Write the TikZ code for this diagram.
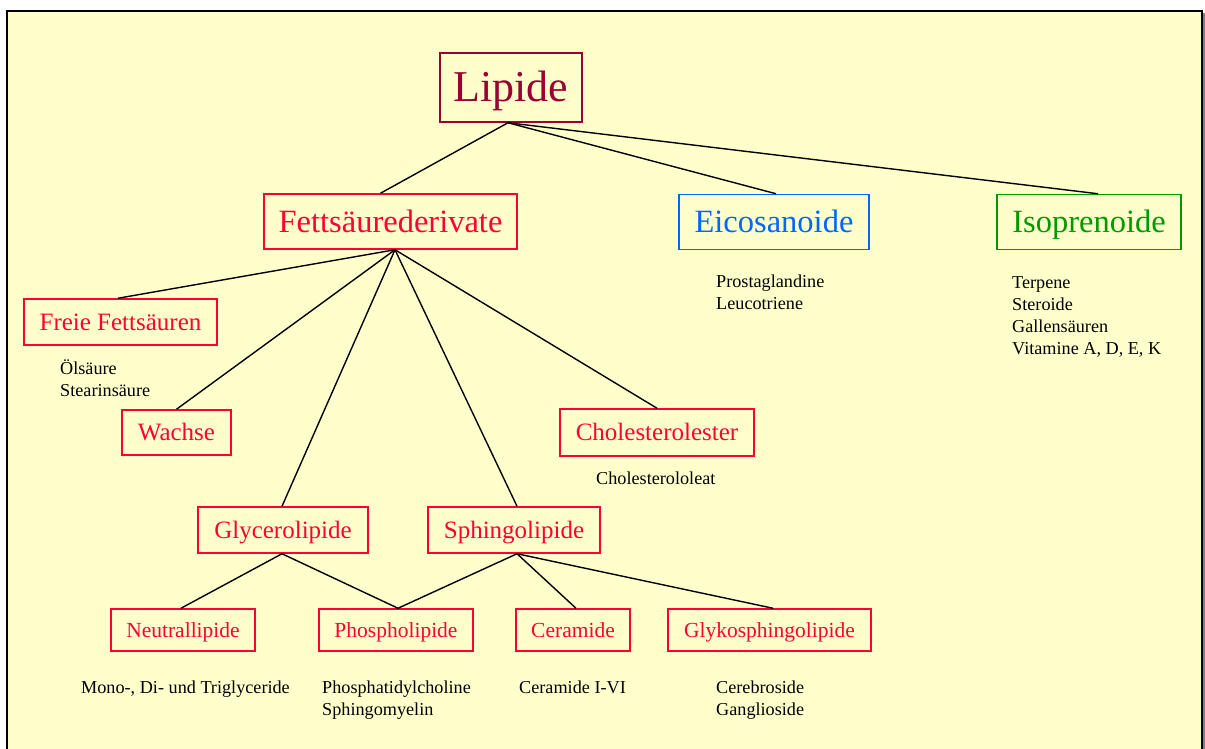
\documentclass[tikz,border=0pt]{standalone}
\usepackage{fontspec}
\setmainfont{Liberation Serif}
\usetikzlibrary{calc}
\definecolor{bgyellow}{HTML}{FFFFCC}
\definecolor{lipred}{HTML}{990033}
\definecolor{fred}{HTML}{FF0033}
\definecolor{eblue}{HTML}{0066FF}
\definecolor{igreen}{HTML}{009900}
\tikzset{
  box/.style={draw, line width=1.5pt, inner sep=0pt, align=center, text depth=0pt},
  conn/.style={draw=black, line width=1.4pt},
  fsA/.style={font=\fontsize{44}{50}\selectfont, text height=29pt},
  fsB/.style={font=\fontsize{32.5}{38}\selectfont, text height=21.5pt},
  fsC/.style={font=\fontsize{25}{30}\selectfont, text height=16.5pt},
  fsD/.style={font=\fontsize{21.5}{26}\selectfont, text height=14pt},
  note/.style={anchor=base west, inner sep=0pt, align=left, font=\fontsize{18.2}{22}\selectfont, text=black},
}
\begin{document}
\begin{tikzpicture}[x=1pt,y=-1pt]
\clip (0,0) rectangle (1205,749);
\fill[white] (0,0) rectangle (1205,749);
\fill[gray] (1203,13) rectangle (1205,760);
\draw[line width=2pt, fill=bgyellow] (7,11) rectangle (1202,800);

% boxes
\node[box, fsA, draw=lipred, text=lipred, minimum width=142, minimum height=69] (lip) at (511,87.5) {Lipide};
\node[box, fsB, draw=fred, text=fred, minimum width=253, minimum height=55] (fett) at (390.5,221.5) {Fettsäurederivate};
\node[box, fsB, draw=eblue, text=eblue, minimum width=190, minimum height=55] (eico) at (774,222) {Eicosanoide};
\node[box, fsB, draw=igreen, text=igreen, minimum width=184, minimum height=55] (iso) at (1089,222) {Isoprenoide};
\node[box, fsC, draw=fred, text=fred, minimum width=193, minimum height=46] (frei) at (120.5,322) {Freie Fettsäuren};
\node[box, fsC, draw=fred, text=fred, minimum width=109, minimum height=45] (wachs) at (176.5,432.5) {Wachse};
\node[box, fsC, draw=fred, text=fred, minimum width=194, minimum height=47] (chol) at (657,432.5) {Cholesterolester};
\node[box, fsC, draw=fred, text=fred, minimum width=170, minimum height=46] (glyc) at (283,530) {Glycerolipide};
\node[box, fsC, draw=fred, text=fred, minimum width=172, minimum height=46] (sphi) at (514,530) {Sphingolipide};
\node[box, fsD, draw=fred, text=fred, minimum width=144, minimum height=42] (neut) at (183,630) {Neutrallipide};
\node[box, fsD, draw=fred, text=fred, minimum width=154, minimum height=42] (phos) at (396,630) {Phospholipide};
\node[box, fsD, draw=fred, text=fred, minimum width=114, minimum height=42] (cera) at (573,630) {Ceramide};
\node[box, fsD, draw=fred, text=fred, minimum width=203, minimum height=42] (glyk) at (769.5,630) {Glykosphingolipide};

% notes (base anchor = baseline of last line)
\node[note] (n1) at (60,396) {Ölsäure\\Stearinsäure};
\node[note] (n2) at (716,309) {Prostaglandine\\Leucotriene};
\node[note] (n3) at (1012,354) {Terpene\\Steroide\\Gallensäuren\\Vitamine A, D, E, K};
\node[note] (n4) at (596,484) {Cholesterololeat};
\node[note] (n5) at (81,693) {Mono-, Di- und Triglyceride};
\node[note] (n6) at (322,715) {Phosphatidylcholine\\Sphingomyelin};
\node[note] (n7) at (519,693) {Ceramide I-VI};
\node[note] (n8) at (716,715) {Cerebroside\\Ganglioside};

% connectors
\path[conn] ([xshift=-3pt]lip.south) -- ([xshift=-10pt]fett.north);
\path[conn] ([xshift=-3pt]lip.south) -- ([xshift=2pt]eico.north);
\path[conn] ([xshift=-3pt]lip.south) -- ([xshift=9pt]iso.north);
\path[conn] ([xshift=4.5pt]fett.south) -- ([xshift=-2.5pt]frei.north);
\path[conn] ([xshift=4.5pt]fett.south) -- ([xshift=0pt]wachs.north);
\path[conn] ([xshift=4.5pt]fett.south) -- ([xshift=-1pt]glyc.north);
\path[conn] ([xshift=4.5pt]fett.south) -- ([xshift=3pt]sphi.north);
\path[conn] ([xshift=4.5pt]fett.south) -- ([xshift=0pt]chol.north);
\path[conn] ([xshift=-1pt]glyc.south) -- ([xshift=-2pt]neut.north);
\path[conn] ([xshift=-1pt]glyc.south) -- ([xshift=2pt]phos.north);
\path[conn] ([xshift=3pt]sphi.south) -- ([xshift=2pt]phos.north);
\path[conn] ([xshift=3pt]sphi.south) -- ([xshift=3pt]cera.north);
\path[conn] ([xshift=3pt]sphi.south) -- ([xshift=3.5pt]glyk.north);
\end{tikzpicture}
\end{document}
